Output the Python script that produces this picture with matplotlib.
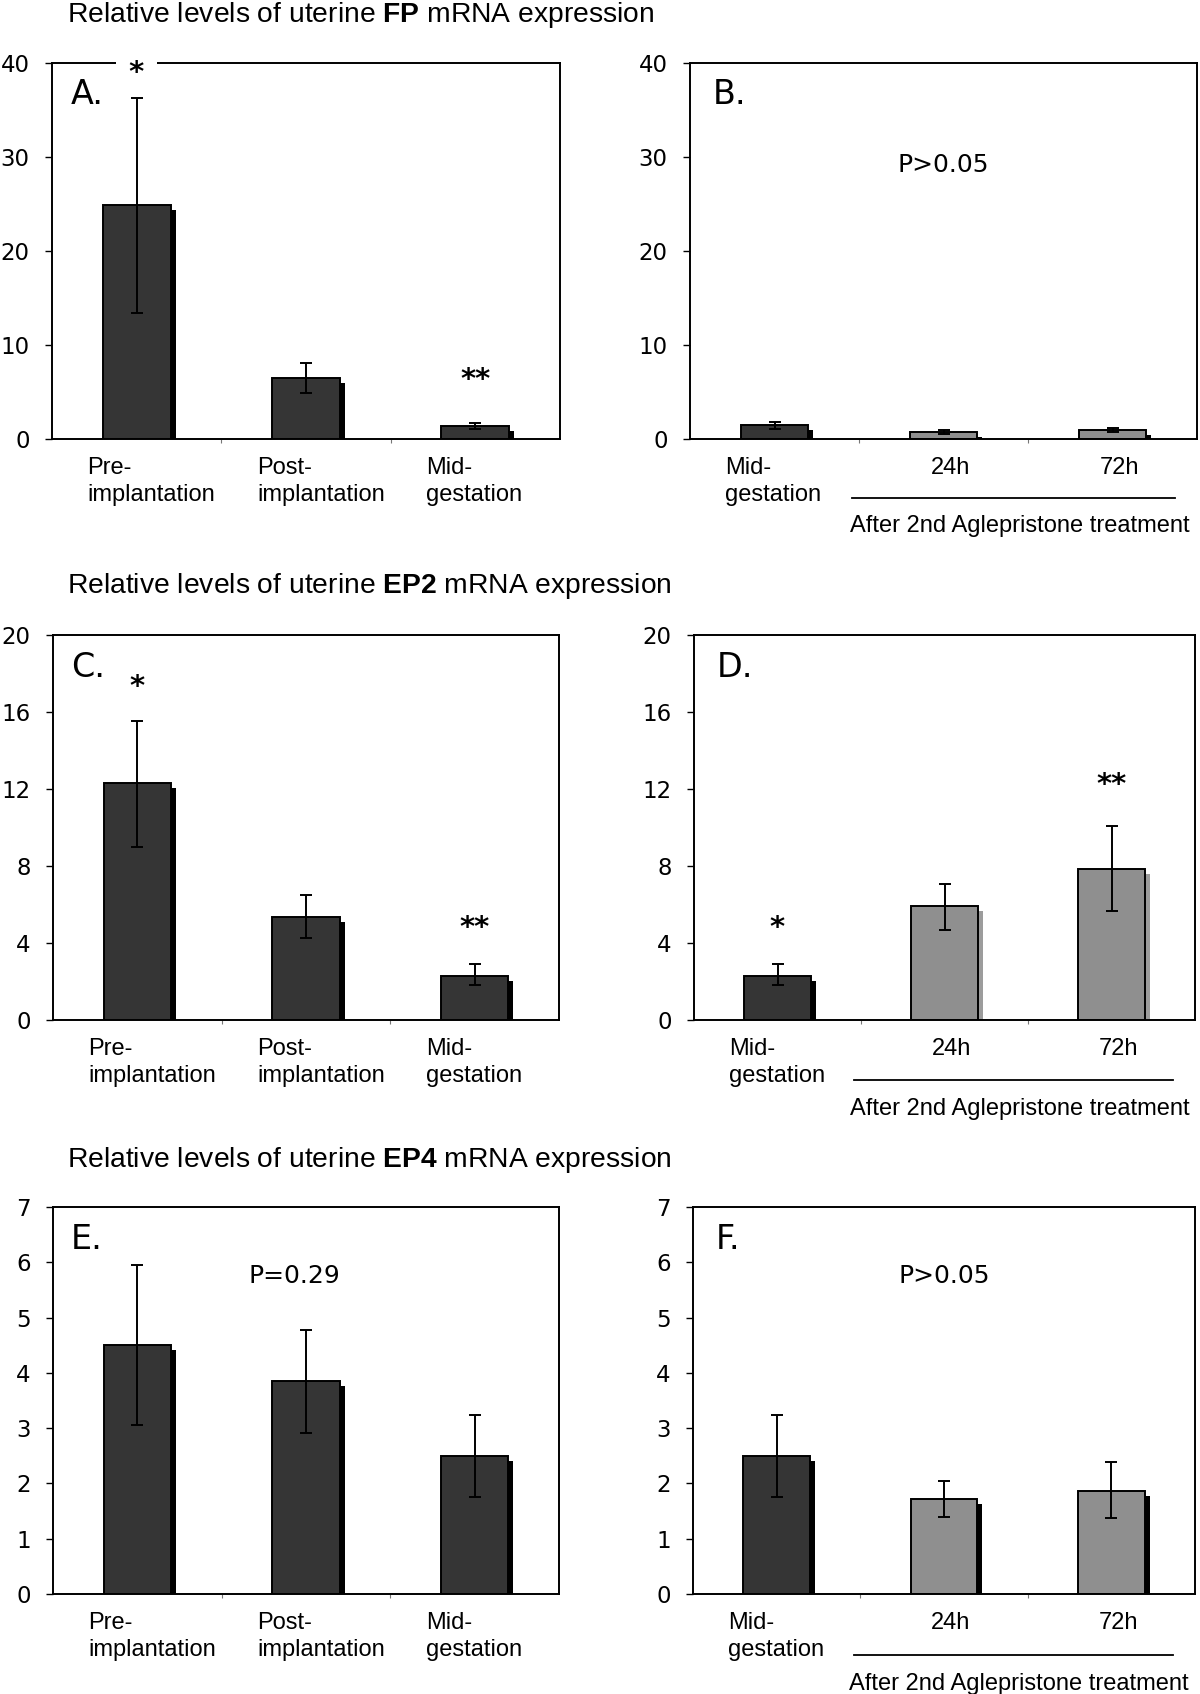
import numpy as np
import matplotlib.pyplot as plt

plt.rcParams['font.family'] = 'DejaVu Sans'
plt.rcParams['mathtext.fontset'] = 'custom'
plt.rcParams['mathtext.rm'] = 'Liberation Sans'
plt.rcParams['mathtext.bf'] = 'Liberation Sans:bold'

# categories
pre_labels = ['Pre-\nimplantation', 'Post-\nimplantation', 'Mid-\ngestation']
post_labels = ['Mid-\ngestation', '24h', '72h']

# FP (A, B)
fp_pre = [24.9, 6.45, 1.4]
fp_pre_lo = [13.4, 4.9, 1.1]
fp_pre_hi = [36.3, 8.1, 1.75]
fp_post = [1.45, 0.75, 0.95]
fp_post_lo = [1.1, 0.5, 0.7]
fp_post_hi = [1.85, 1.0, 1.2]

# EP2 (C, D)
ep2_pre = [12.3, 5.35, 2.3]
ep2_pre_lo = [9.0, 4.25, 1.8]
ep2_pre_hi = [15.55, 6.5, 2.9]
ep2_post = [2.3, 5.9, 7.85]
ep2_post_lo = [1.8, 4.65, 5.65]
ep2_post_hi = [2.9, 7.05, 10.1]

# EP4 (E, F)
ep4_pre = [4.5, 3.86, 2.5]
ep4_pre_lo = [3.05, 2.92, 1.76]
ep4_pre_hi = [5.95, 4.78, 3.24]
ep4_post = [2.5, 1.72, 1.87]
ep4_post_lo = [1.76, 1.4, 1.37]
ep4_post_hi = [3.24, 2.04, 2.38]

DARK = '#353535'
GREY = '#8f8f8f'

fig = plt.figure(figsize=(12, 16.94), dpi=100)
H = 1694.0
W = 1200.0


def add_ax(left, right, top, bottom):
    return fig.add_axes([left / W, 1 - bottom / H, (right - left) / W, (bottom - top) / H])


def draw_panel(ax, means, lo, hi, colors, shadows, ymax, step, labels, letter):
    x = np.arange(len(means))
    means = np.array(means)
    dy = ymax * 0.013
    # drop shadows behind the bars
    ax.bar(x + 0.03, np.clip(means - dy, 0, None), width=0.4, color=shadows,
           edgecolor='none', zorder=1)
    ax.bar(x, means, width=0.4, color=colors, edgecolor='black', linewidth=1.4, zorder=2)
    yerr = [means - np.array(lo), np.array(hi) - means]
    ax.errorbar(x, means, yerr=yerr, fmt='none', ecolor='black', elinewidth=1.4,
                capsize=4.5, capthick=1.4, zorder=3)
    ax.set_xlim(-0.5, 2.5)
    ax.set_ylim(0, ymax)
    ax.set_yticks(np.arange(0, ymax + 0.01, step))
    ax.set_xticks([])
    ax.set_xticks([0.5, 1.5], minor=True)
    ax.tick_params(axis='x', which='minor', length=3, width=0.8, color='#777777')
    ax.tick_params(axis='y', length=5, width=1, labelsize=16.5, pad=11)
    for s in ax.spines.values():
        s.set_linewidth(1.4)
    trans = ax.get_xaxis_transform()
    for i, lab in enumerate(labels):
        if '\n' in lab:
            ax.annotate(lab, xy=(i - 0.29, 0), xycoords=trans, xytext=(0, -13),
                        textcoords='offset points', ha='left', va='top',
                        fontsize=17, family='Liberation Sans', linespacing=1.32)
        else:
            ax.annotate(lab, xy=(i + 0.04, 0), xycoords=trans, xytext=(0, -13),
                        textcoords='offset points', ha='center', va='top',
                        fontsize=17, family='Liberation Sans')
    ax.text(0.036 if letter[0] in 'ACE' else 0.045, 0.915, letter, transform=ax.transAxes,
            fontsize=24, ha='left', va='center')


def after_treatment(ax):
    trans = ax.get_xaxis_transform()
    ax.plot([0.46, 2.37], [-0.157, -0.157], transform=trans, color='black', lw=1.3,
            clip_on=False)
    ax.text(1.45, -0.232, 'After 2nd Aglepristone treatment', transform=trans,
            ha='center', va='center', fontsize=17, family='Liberation Sans')


axA = add_ax(52, 560, 63, 439)
axB = add_ax(690, 1197, 63, 439)
axC = add_ax(53, 559, 635, 1020)
axD = add_ax(694, 1195, 635, 1020)
axE = add_ax(53, 559, 1207, 1594)
axF = add_ax(693, 1195, 1207, 1594)

draw_panel(axA, fp_pre, fp_pre_lo, fp_pre_hi, [DARK] * 3, ['black'] * 3, 40, 10,
           pre_labels, 'A.')
draw_panel(axB, fp_post, fp_post_lo, fp_post_hi, [DARK, GREY, GREY], ['black'] * 3, 40, 10,
           post_labels, 'B.')
draw_panel(axC, ep2_pre, ep2_pre_lo, ep2_pre_hi, [DARK] * 3, ['black'] * 3, 20, 4,
           pre_labels, 'C.')
draw_panel(axD, ep2_post, ep2_post_lo, ep2_post_hi, [DARK, GREY, GREY],
           ['black', '#9c9c9c', '#9c9c9c'], 20, 4, post_labels, 'D.')
draw_panel(axE, ep4_pre, ep4_pre_lo, ep4_pre_hi, [DARK] * 3, ['black'] * 3, 7, 1,
           pre_labels, 'E.')
draw_panel(axF, ep4_post, ep4_post_lo, ep4_post_hi, [DARK, GREY, GREY], ['black'] * 3, 7, 1,
           post_labels, 'F.')

for ax in (axB, axD, axF):
    after_treatment(ax)

# significance marks
star = dict(ha='center', va='center', fontsize=21, fontweight='bold')
axA.text(0, 38.9, ' * ', zorder=5, clip_on=False,
         bbox=dict(facecolor='white', edgecolor='none', pad=2), **star)
axA.text(2, 6.3, '**', **star)
axB.text(1.0, 29.1, 'P>0.05', ha='center', va='center', fontsize=18)
axC.text(0, 17.3, '*', **star)
axC.text(2, 4.8, '**', **star)
axD.text(0, 4.8, '*', **star)
axD.text(2, 12.2, '**', **star)
axE.text(0.93, 5.75, 'P=0.29', ha='center', va='center', fontsize=18)
axF.text(1.0, 5.75, 'P>0.05', ha='center', va='center', fontsize=18)

# row titles
titles = [('FP', 15), ('EP2', 586), ('EP4', 1160)]
for gene, ypix in titles:
    fig.text(67 / W, 1 - ypix / H,
             'Relative levels of uterine $\\mathbf{' + gene + '}$ mRNA expression',
             ha='left', va='center', fontsize=20.3, family='Liberation Sans')

fig.savefig('out.png', dpi=100)
